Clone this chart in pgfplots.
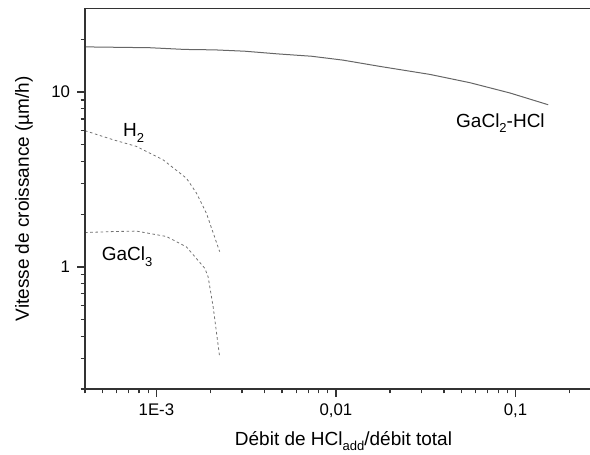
\documentclass[border=0pt]{standalone}
\usepackage{fontspec}
\setmainfont{Liberation Sans}
\usepackage{pgfplots}
\pgfplotsset{compat=1.18}
\definecolor{axgray}{HTML}{333333}
\begin{document}
\begin{tikzpicture}
\begin{axis}[
  scale only axis,
  width=252.5pt, height=190.25pt,
  xmode=log, ymode=log,
  xmin=4e-4, xmax=0.26,
  ymin=0.2, ymax=30,
  separate axis lines,
  x axis line style={axgray, line width=0.9pt},
  y axis line style={draw=none},
  xtick pos=bottom, ytick pos=left,
  tick align=outside,
  major tick style={axgray, line width=0.8pt},
  minor tick style={axgray, line width=0.6pt},
  major tick length=4pt, minor tick length=2.2pt,
  xtick={0.001,0.01,0.1}, xticklabels={1E-3,{0,01},{0,1}},
  ytick={1,10}, yticklabels={1,10},
  minor xtick={4e-4,5e-4,6e-4,7e-4,8e-4,9e-4,2e-3,3e-3,4e-3,5e-3,6e-3,7e-3,8e-3,9e-3,0.02,0.03,0.04,0.05,0.06,0.07,0.08,0.09,0.2},
  minor ytick={0.2,0.3,0.4,0.5,0.6,0.7,0.8,0.9,2,3,4,5,6,7,8,9,20},
  ticklabel style={font=\fontsize{8.4}{9}\selectfont, text=black},
  every axis x label/.style={at={(rel axis cs:0.5,0)}, anchor=base, yshift=-28pt, xshift=3pt},
  every axis y label/.style={at={(rel axis cs:0,0.5)}, anchor=center, xshift=-30.5pt, rotate=90},
  label style={font=\fontsize{9.5}{11}\selectfont},
  xlabel={Débit de HCl\raisebox{-0.55ex}{\fontsize{6.5}{7}\selectfont add}/débit total},
  ylabel={Vitesse de croissance (µm/h)},
  clip=false,
]
\addplot[black!60, line width=0.5pt] coordinates {
(4e-4,18.1) (9.18e-4,17.9) (1.44e-3,17.5) (2.11e-3,17.4) (3.10e-3,17.1)
(4.75e-3,16.5) (7.31e-3,16.0) (0.01096,15.2) (0.01754,14.0) (0.0333,12.6)
(0.0556,11.3) (0.0929,9.87) (0.152,8.45)};
\addplot[black!55, line width=0.4pt, dash pattern=on 1.3pt off 1.3pt] coordinates {
(4e-4,6.0) (5.73e-4,5.33) (7.74e-4,4.88) (1.089e-3,4.09) (1.469e-3,3.21)
(1.671e-3,2.64) (1.90e-3,2.02) (2.25e-3,1.22)};
\addplot[black!55, line width=0.4pt, dash pattern=on 1.3pt off 1.3pt] coordinates {
(4e-4,1.57) (5.73e-4,1.59) (7.74e-4,1.60) (1.137e-3,1.49) (1.469e-3,1.30)
(1.86e-3,0.98) (1.94e-3,0.877) (2.07e-3,0.59) (2.25e-3,0.305)};
\node[anchor=base west, inner sep=0pt, font=\fontsize{9.5}{11}\selectfont] at (axis cs:6.5e-4,5.55) {H\raisebox{-0.55ex}{\fontsize{6.5}{7}\selectfont 2}};
\node[anchor=base west, inner sep=0pt, font=\fontsize{9.5}{11}\selectfont] at (axis cs:4.94e-4,1.08) {GaCl\raisebox{-0.55ex}{\fontsize{6.5}{7}\selectfont 3}};
\node[anchor=base west, inner sep=0pt, font=\fontsize{9.5}{11}\selectfont] at (axis cs:0.0465,6.3) {GaCl\raisebox{-0.55ex}{\fontsize{6.5}{7}\selectfont 2}-HCl};
\draw[axgray, line width=0.9pt, line cap=rect] (rel axis cs:0,0) -- (rel axis cs:0,1);
\coordinate (bl) at (rel axis cs:0,0);
\coordinate (tr) at (rel axis cs:1,1);
\end{axis}
\pgfresetboundingbox
\path ([xshift=-42.5pt,yshift=-33pt]bl) rectangle ([yshift=4.25pt]tr);
\end{tikzpicture}
\end{document}
